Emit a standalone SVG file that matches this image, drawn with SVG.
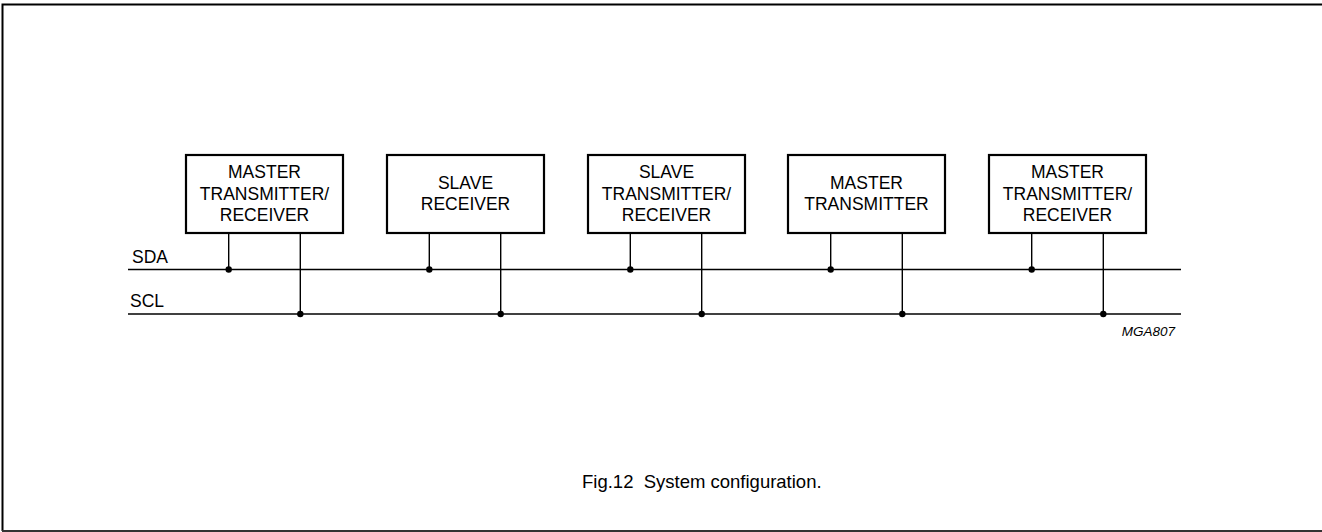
<svg xmlns="http://www.w3.org/2000/svg" width="1322" height="532" viewBox="0 0 1322 532">
<style>
text{font-family:"Liberation Sans",Arial,sans-serif;fill:#000}
.lbl{font-size:17.5px;text-anchor:middle}
.box{fill:#fff;stroke:#000;stroke-width:2.2}
.w{stroke:#000;stroke-width:1.4;fill:none}
.dot{fill:#000}
</style>
<rect x="0" y="0" width="1322" height="532" fill="#fff"/>
<path d="M2.5,531 V4.5 H1324" fill="none" stroke="#000" stroke-width="2"/>
<path d="M2,531 H1324" fill="none" stroke="#333" stroke-width="2"/>
<g id="connectors">
<line class="w" x1="128" y1="269.5" x2="1181" y2="269.5"/>
<line class="w" x1="128" y1="314" x2="1181" y2="314"/>
<path class="w" d="M228.7,233V269.5 M300.3,233V314 M429.3,233V269.5 M500.7,233V314 M630.3,233V269.5 M701.7,233V314 M830.7,233V269.5 M902.3,233V314 M1031.7,233V269.5 M1103.3,233V314"/>
<circle class="dot" cx="228.7" cy="269.5" r="3.2"/>
<circle class="dot" cx="300.3" cy="314" r="3.2"/>
<circle class="dot" cx="429.3" cy="269.5" r="3.2"/>
<circle class="dot" cx="500.7" cy="314" r="3.2"/>
<circle class="dot" cx="630.3" cy="269.5" r="3.2"/>
<circle class="dot" cx="701.7" cy="314" r="3.2"/>
<circle class="dot" cx="830.7" cy="269.5" r="3.2"/>
<circle class="dot" cx="902.3" cy="314" r="3.2"/>
<circle class="dot" cx="1031.7" cy="269.5" r="3.2"/>
<circle class="dot" cx="1103.3" cy="314" r="3.2"/>
</g>
<g id="node1">
<rect class="box" x="186" y="155" width="157" height="78"/>
<text class="lbl" x="264.5" y="178">MASTER</text>
<text class="lbl" x="264.5" y="199.5">TRANSMITTER/</text>
<text class="lbl" x="264.5" y="221">RECEIVER</text>
</g>
<g id="node2">
<rect class="box" x="387" y="155" width="157" height="78"/>
<text class="lbl" x="465.5" y="189">SLAVE</text>
<text class="lbl" x="465.5" y="210">RECEIVER</text>
</g>
<g id="node3">
<rect class="box" x="588" y="155" width="157" height="78"/>
<text class="lbl" x="666.5" y="178">SLAVE</text>
<text class="lbl" x="666.5" y="199.5">TRANSMITTER/</text>
<text class="lbl" x="666.5" y="221">RECEIVER</text>
</g>
<g id="node4">
<rect class="box" x="788" y="155" width="157" height="78"/>
<text class="lbl" x="866.5" y="189">MASTER</text>
<text class="lbl" x="866.5" y="210">TRANSMITTER</text>
</g>
<g id="node5">
<rect class="box" x="989" y="155" width="157" height="78"/>
<text class="lbl" x="1067.5" y="178">MASTER</text>
<text class="lbl" x="1067.5" y="199.5">TRANSMITTER/</text>
<text class="lbl" x="1067.5" y="221">RECEIVER</text>
</g>
<text x="132" y="263" font-size="17.5">SDA</text>
<text x="130" y="307" font-size="17.5">SCL</text>
<text x="1175" y="336" font-size="13.5" font-style="italic" text-anchor="end">MGA807</text>
<text x="582" y="488" font-size="18.5" xml:space="preserve">Fig.12  System configuration.</text>
</svg>
